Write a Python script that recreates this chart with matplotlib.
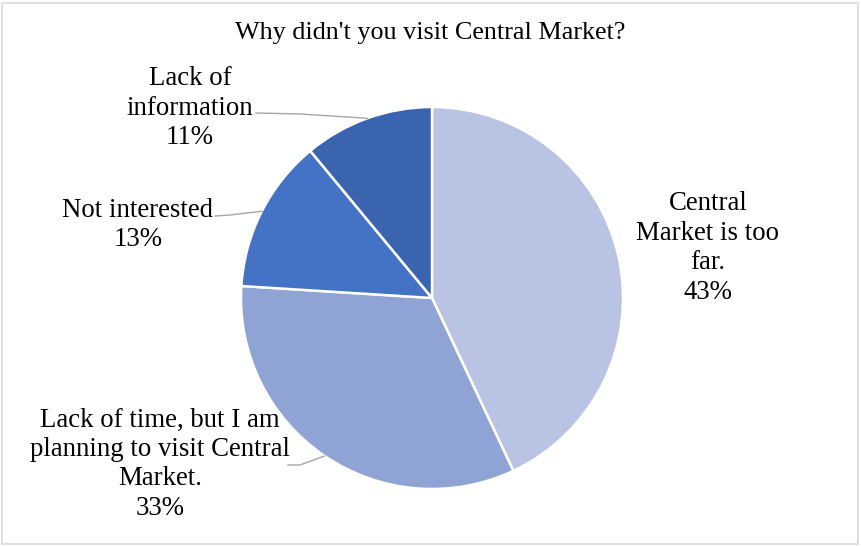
import matplotlib
matplotlib.use("Agg")
import matplotlib.pyplot as plt
from matplotlib.patches import Rectangle
import numpy as np

plt.rcParams['font.family'] = ['Liberation Serif', 'DejaVu Serif']

title = "Why didn't you visit Central Market?"
labels = ["Central\nMarket is too\nfar.",
          "Lack of time, but I am\nplanning to visit Central\nMarket.",
          "Not interested",
          "Lack of\ninformation"]
values = [43, 33, 13, 11]
colors = ["#B9C4E4", "#8FA3D5", "#4472C4", "#3A64AE"]

W, H = 861, 546
fig = plt.figure(figsize=(W / 100, H / 100), dpi=100)

# outer chart border
fig.patches.append(Rectangle((2 / W, 2 / H), (W - 5) / W, (H - 5) / H,
                             transform=fig.transFigure, fill=False,
                             edgecolor="#D9D9D9", linewidth=1.2))

cx, cy, r = 432, 298, 191
ax = fig.add_axes([(cx - r) / W, (H - cy - r) / H, 2 * r / W, 2 * r / H])
wedges, _ = ax.pie(values, colors=colors, startangle=90, counterclock=False,
                   radius=1.0, wedgeprops=dict(edgecolor="white", linewidth=1.8))
ax.set_xlim(-1, 1)
ax.set_ylim(-1, 1)
ax.set_aspect("equal")
ax.axis("off")

fig.text(0.5, 1 - 33 / H, title, ha="center", va="center", fontsize=18.8)


def px(x, y):
    # pixel position -> axes data coordinates
    return ((x - cx) / r, (cy - y) / r)


fs = 19.3
# label centres (pixels) and leader-line elbows
label_pos = [(708, 248), (160, 464), (138, 225), (190, 108)]
elbows = [None, [(288, 465), (300, 465)], [(215, 216), (230, 215)],
          [(256, 113), (300, 114)]]

for w, lab, v, pos, elb in zip(wedges, labels, values, label_pos, elbows):
    tx, ty = px(*pos)
    ax.text(tx, ty, f"{lab}\n{v}%", ha="center", va="center", fontsize=fs,
            linespacing=1.23, clip_on=False)
    if elb is not None:
        mid = np.deg2rad((w.theta1 + w.theta2) / 2)
        ex, ey = np.cos(mid), np.sin(mid)
        pts = [px(*p) for p in elb] + [(ex, ey)]
        xs, ys = zip(*pts)
        ax.plot(xs, ys, color="#A6A6A6", linewidth=1.0, clip_on=False)

fig.savefig("out.png", dpi=100, facecolor="white")
